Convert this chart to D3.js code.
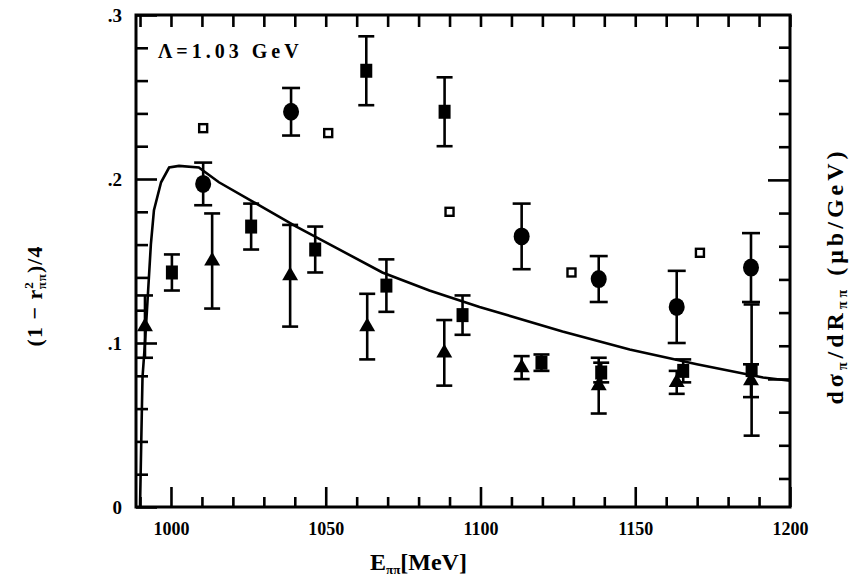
<!DOCTYPE html>
<html><head><meta charset="utf-8">
<script src="https://cdn.jsdelivr.net/npm/d3@7"></script>
<style>
html,body{margin:0;padding:0;background:#fff;}
svg{display:block;}
text{font-family:"Liberation Serif","DejaVu Serif",serif;font-weight:bold;fill:#000;}
</style></head>
<body>
<div id="chart"></div>
<script>
// ---- data (E in MeV, value in (1-r^2)/4 units) ----
const circleE   = [1010.4, 1038.8, 1113.3, 1138.2, 1163.4, 1187.4];
const circleV   = [0.197, 0.241, 0.165, 0.139, 0.122, 0.146];
const circleErr = [0.013, 0.0145, 0.020, 0.014, 0.022, 0.021];

const squareE   = [1000.3, 1025.9, 1046.6, 1063.1, 1069.6, 1088.4, 1094.2, 1119.7, 1139.0, 1165.5, 1187.6];
const squareV   = [0.143, 0.171, 0.157, 0.266, 0.135, 0.241, 0.117, 0.088, 0.082, 0.083, 0.0835];
const squareErr = [0.011, 0.014, 0.014, 0.021, 0.016, 0.021, 0.012, 0.005, 0.006, 0.007, 0.040];

const triE   = [991.6, 1013.3, 1038.5, 1063.4, 1088.3, 1113.3, 1138.2, 1163.4, 1187.4];
const triV   = [0.110, 0.150, 0.141, 0.110, 0.094, 0.085, 0.074, 0.076, 0.077];
const triErr = [0.019, 0.029, 0.031, 0.020, 0.020, 0.007, 0.017, 0.007, 0.010];

const openE = [1010.4, 1050.8, 1090.0, 1129.4, 1170.9];
const openV = [0.231, 0.228, 0.180, 0.143, 0.155];

const curveE = [990.0, 990.4, 990.8, 991.6, 992.4, 993.5, 994.5, 996.8, 999.4, 1002.6, 1009.0, 1015.5, 1029.4, 1040.5, 1053.4, 1068.3, 1083.5, 1099.7, 1126.5, 1148.2, 1169.9, 1191.3, 1200.0];
const curveV = [0.000, 0.040, 0.079, 0.100, 0.125, 0.160, 0.181, 0.198, 0.207, 0.208, 0.207, 0.198, 0.183, 0.171, 0.158, 0.143, 0.132, 0.122, 0.107, 0.096, 0.087, 0.079, 0.077];

const xMajorTicks = [1000, 1050, 1100, 1150, 1200];
const xTickLabels = ["1000", "1050", "1100", "1150", "1200"];
const yMajorTicks = [0, 0.1, 0.2, 0.3];
const yTickLabels = ["0", ".1", ".2", ".3"];
const rightMajorTicks = [6, 12];

// ---- layout ----
const W = 852, H = 577;
const L = 136, R = 790, T = 15, B = 507;

const svg = d3.select("#chart").append("svg").attr("width", W).attr("height", H);

const x = d3.scaleLinear().domain([988.7, 1200]).range([L, R]);
const y = d3.scaleLinear().domain([0, 0.3]).range([B, T]);
// right-hand axis (dσ/dR) — unlabelled scale, 6 minor steps between majors
const yR = d3.scaleLinear().domain([2.14, 16.97]).range([B, T]);

const xMinor = d3.range(990, 1200.1, 10).filter(v => !xMajorTicks.includes(v));
const yMinor = d3.range(0, 0.301, 0.02).filter(v => !yMajorTicks.some(m => Math.abs(m - v) < 1e-6));
const rMinor = d3.range(3, 17, 1).filter(v => !rightMajorTicks.includes(v));

const SW = 2.6;

// bottom axis (ticks inward)
const bottom = svg.append("g").attr("transform", `translate(0,${B})`)
  .call(d3.axisBottom(x).tickValues(xMajorTicks).tickSize(-20).tickFormat((d, i) => xTickLabels[i]).tickPadding(15));
bottom.select(".domain").remove();
bottom.selectAll("line").attr("stroke", "#000").attr("stroke-width", SW);
bottom.selectAll("text").attr("font-size", 18).attr("fill", "#000").attr("font-family", "Liberation Serif").attr("font-weight", "bold");
svg.append("g").attr("transform", `translate(0,${B})`)
  .call(d3.axisBottom(x).tickValues(xMinor).tickSize(-10).tickFormat(""))
  .call(g => { g.select(".domain").remove(); g.selectAll("line").attr("stroke", "#000").attr("stroke-width", SW); });

// top axis ticks
svg.append("g").attr("transform", `translate(0,${T})`)
  .call(d3.axisTop(x).tickValues(xMajorTicks.concat(xMinor)).tickSize(-12).tickFormat(""))
  .call(g => { g.select(".domain").remove(); g.selectAll("line").attr("stroke", "#000").attr("stroke-width", SW); });

// left axis
const left = svg.append("g").attr("transform", `translate(${L},0)`)
  .call(d3.axisLeft(y).tickValues(yMajorTicks).tickSize(-21).tickFormat((d, i) => yTickLabels[i]).tickPadding(14));
left.select(".domain").remove();
left.selectAll("line").attr("stroke", "#000").attr("stroke-width", SW);
left.selectAll("text").attr("font-size", 19).attr("fill", "#000").attr("font-family", "Liberation Serif").attr("font-weight", "bold");
svg.append("g").attr("transform", `translate(${L},0)`)
  .call(d3.axisLeft(y).tickValues(yMinor).tickSize(-12).tickFormat(""))
  .call(g => { g.select(".domain").remove(); g.selectAll("line").attr("stroke", "#000").attr("stroke-width", SW); });

// right axis
svg.append("g").attr("transform", `translate(${R},0)`)
  .call(d3.axisRight(yR).tickValues(rightMajorTicks).tickSize(-22).tickFormat(""))
  .call(g => { g.select(".domain").remove(); g.selectAll("line").attr("stroke", "#000").attr("stroke-width", SW); });
svg.append("g").attr("transform", `translate(${R},0)`)
  .call(d3.axisRight(yR).tickValues(rMinor).tickSize(-11).tickFormat(""))
  .call(g => { g.select(".domain").remove(); g.selectAll("line").attr("stroke", "#000").attr("stroke-width", SW); });

// frame
svg.append("rect").attr("x", L).attr("y", T).attr("width", R - L).attr("height", B - T)
  .attr("fill", "none").attr("stroke", "#000").attr("stroke-width", 3);

// curve
svg.append("path")
  .datum(curveE.map((e, i) => [e, curveV[i]]))
  .attr("fill", "none").attr("stroke", "#000").attr("stroke-width", 2.6)
  .attr("d", d3.line().x(d => x(d[0])).y(d => y(d[1])));

// error bars helper
function errorBars(E, V, Er, cap) {
  const g = svg.append("g").attr("stroke", "#000").attr("stroke-width", 2.6);
  E.forEach((e, i) => {
    const cx = x(e), y1 = y(V[i] + Er[i]), y2 = y(V[i] - Er[i]);
    g.append("line").attr("x1", cx).attr("x2", cx).attr("y1", y1).attr("y2", y2);
    g.append("line").attr("x1", cx - cap).attr("x2", cx + cap).attr("y1", y1).attr("y2", y1);
    g.append("line").attr("x1", cx - cap).attr("x2", cx + cap).attr("y1", y2).attr("y2", y2);
  });
}
errorBars(triE, triV, triErr, 8);
errorBars(squareE, squareV, squareErr, 8);
errorBars(circleE, circleV, circleErr, 9);

// triangles
svg.append("g").selectAll("path").data(triE).join("path")
  .attr("transform", (d, i) => `translate(${x(d)},${y(triV[i])})`)
  .attr("d", d3.symbol().type(d3.symbolTriangle).size(110))
  .attr("fill", "#000");

// squares
svg.append("g").selectAll("rect").data(squareE).join("rect")
  .attr("x", d => x(d) - 6).attr("y", (d, i) => y(squareV[i]) - 7)
  .attr("width", 12).attr("height", 14).attr("fill", "#000");

// circles
svg.append("g").selectAll("ellipse").data(circleE).join("ellipse")
  .attr("cx", d => x(d)).attr("cy", (d, i) => y(circleV[i]))
  .attr("rx", 8).attr("ry", 9).attr("fill", "#000");

// open small markers
svg.append("g").selectAll("rect").data(openE).join("rect")
  .attr("x", d => x(d) - 4).attr("y", (d, i) => y(openV[i]) - 4)
  .attr("width", 8).attr("height", 8)
  .attr("fill", "none").attr("stroke", "#000").attr("stroke-width", 2.4);

// annotation
svg.append("text").attr("x", 158).attr("y", 58).attr("font-size", 20)
  .attr("letter-spacing", 4).attr("font-family", "Liberation Serif").text("Λ=1.03 GeV");

// x axis title
const xt = svg.append("text").attr("x", 370).attr("y", 570).attr("font-size", 24);
xt.append("tspan").text("E");
xt.append("tspan").attr("font-size", 13).attr("dy", 4).text("ππ");
xt.append("tspan").attr("dy", -4).text("[MeV]");

// left y title
const yt = svg.append("text").attr("transform", "translate(42,296) rotate(-90)")
  .attr("text-anchor", "middle").attr("font-size", 22).attr("letter-spacing", 1);
yt.append("tspan").text("(1 − r");
yt.append("tspan").attr("font-size", 13).attr("dy", -9).text("2");
yt.append("tspan").attr("font-size", 13).attr("dx", -8).attr("dy", 13).text("ππ");
yt.append("tspan").attr("dy", -4).text(")/4");

// right y title
const rt = svg.append("text").attr("transform", "translate(843,276) rotate(-90)")
  .attr("text-anchor", "middle").attr("font-size", 24).attr("letter-spacing", 4);
rt.append("tspan").text("dσ");
rt.append("tspan").attr("font-size", 14).attr("dy", 4).text("π");
rt.append("tspan").attr("dy", -4).text("/dR");
rt.append("tspan").attr("font-size", 14).attr("dy", 4).text("ππ");
rt.append("tspan").attr("dy", -4).text(" (μb/GeV)");
</script>
</body></html>
